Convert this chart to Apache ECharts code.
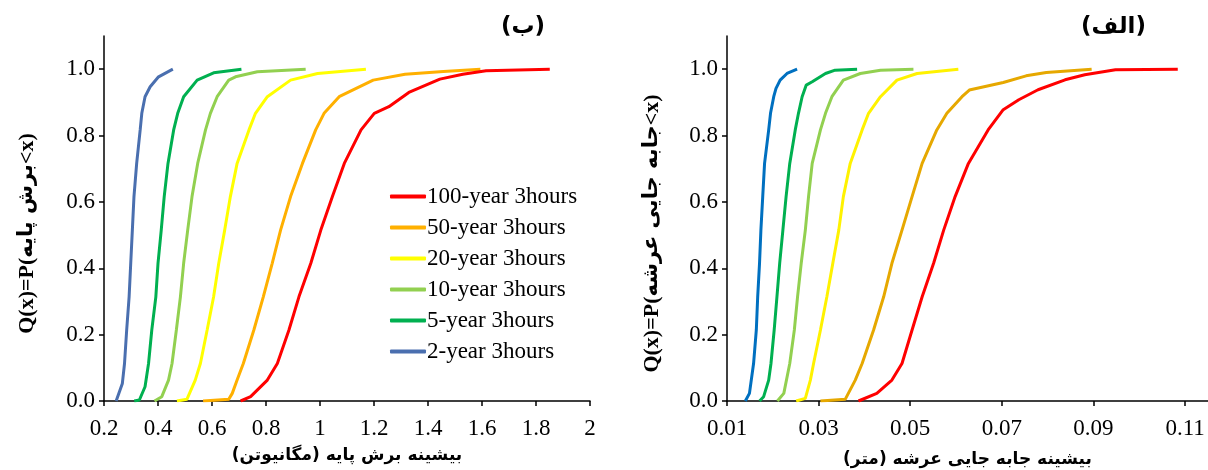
<!DOCTYPE html>
<html>
<head>
<meta charset="utf-8">
<script src="https://cdn.jsdelivr.net/npm/echarts@6/dist/echarts.min.js"></script>
<style>
  html, body { margin: 0; padding: 0; background: #fff; }
  #main { width: 1208px; height: 470px; }
</style>
</head>
<body>
<div id="main"></div>
<script>
// series names (legend order)
const names = ['100-year 3hours', '50-year 3hours', '20-year 3hours', '10-year 3hours', '5-year 3hours', '2-year 3hours'];

// left panel (ب): max base shear (MN) vs cumulative probability
const baseShear100 = [[0.706,0],[0.743,0.013],[0.805,0.063],[0.842,0.113],[0.885,0.214],[0.922,0.314],[0.966,0.415],[1.003,0.515],[1.046,0.616],[1.090,0.716],[1.152,0.817],[1.201,0.867],[1.255,0.887],[1.329,0.93],[1.444,0.97],[1.529,0.985],[1.615,0.995],[1.851,1.0]];
const baseShear50 = [[0.567,0],[0.662,0.005],[0.675,0.023],[0.693,0.063],[0.716,0.113],[0.755,0.214],[0.790,0.314],[0.823,0.415],[0.854,0.515],[0.891,0.616],[0.935,0.716],[0.984,0.817],[1.015,0.867],[1.071,0.917],[1.197,0.967],[1.315,0.985],[1.457,0.993],[1.594,1.0]];
const baseShear20 = [[0.470,0],[0.507,0.005],[0.538,0.063],[0.557,0.113],[0.582,0.214],[0.606,0.314],[0.625,0.415],[0.647,0.515],[0.668,0.616],[0.693,0.716],[0.737,0.817],[0.761,0.867],[0.805,0.917],[0.891,0.967],[0.991,0.987],[1.170,1.0]];
const baseShear10 = [[0.387,0],[0.414,0.013],[0.439,0.063],[0.452,0.113],[0.468,0.214],[0.483,0.314],[0.495,0.415],[0.510,0.515],[0.526,0.616],[0.547,0.716],[0.576,0.817],[0.594,0.867],[0.619,0.917],[0.662,0.967],[0.687,0.977],[0.768,0.992],[0.947,1.0]];
const baseShear5 = [[0.312,0],[0.331,0.003],[0.352,0.043],[0.365,0.113],[0.377,0.214],[0.392,0.314],[0.400,0.415],[0.412,0.515],[0.423,0.616],[0.437,0.716],[0.458,0.817],[0.473,0.867],[0.495,0.917],[0.545,0.967],[0.606,0.989],[0.709,1.0]];
const baseShear2 = [[0.245,0],[0.268,0.053],[0.276,0.113],[0.284,0.214],[0.293,0.314],[0.299,0.415],[0.305,0.515],[0.311,0.616],[0.321,0.716],[0.334,0.817],[0.340,0.867],[0.352,0.917],[0.371,0.947],[0.402,0.977],[0.455,1.0]];

// right panel (الف): max deck displacement (m) vs cumulative probability
const deck100 = [[0.0387,0],[0.0427,0.023],[0.0460,0.063],[0.0482,0.113],[0.0504,0.214],[0.0526,0.314],[0.0551,0.415],[0.0573,0.515],[0.0598,0.616],[0.0627,0.716],[0.0670,0.817],[0.0703,0.878],[0.0737,0.908],[0.0779,0.938],[0.0838,0.968],[0.0881,0.983],[0.0948,0.998],[0.1084,1.0]];
const deck50 = [[0.0304,0],[0.0358,0.005],[0.0380,0.063],[0.0395,0.113],[0.0420,0.214],[0.0442,0.314],[0.0460,0.415],[0.0482,0.515],[0.0504,0.616],[0.0526,0.716],[0.0558,0.817],[0.0580,0.867],[0.0613,0.917],[0.0629,0.937],[0.0703,0.96],[0.0753,0.98],[0.0797,0.99],[0.0896,1.0]];
const deck20 = [[0.0251,0],[0.0271,0.008],[0.0282,0.063],[0.0289,0.113],[0.0304,0.214],[0.0318,0.314],[0.0331,0.415],[0.0344,0.515],[0.0354,0.616],[0.0369,0.716],[0.0395,0.817],[0.0409,0.867],[0.0435,0.917],[0.0471,0.967],[0.0515,0.987],[0.0605,1.0]];
const deck10 = [[0.0210,0],[0.0224,0.023],[0.0237,0.113],[0.0247,0.214],[0.0254,0.314],[0.0262,0.415],[0.0271,0.515],[0.0278,0.616],[0.0286,0.716],[0.0304,0.817],[0.0315,0.867],[0.0329,0.917],[0.0354,0.967],[0.0391,0.987],[0.0435,0.997],[0.0507,1.0]];
const deck5 = [[0.0171,0],[0.0180,0.013],[0.0191,0.063],[0.0196,0.113],[0.0203,0.214],[0.0209,0.314],[0.0215,0.415],[0.0222,0.515],[0.0229,0.616],[0.0237,0.716],[0.0249,0.817],[0.0256,0.867],[0.0264,0.917],[0.0273,0.952],[0.0286,0.962],[0.0315,0.987],[0.0336,0.997],[0.0384,1.0]];
const deck2 = [[0.0140,0],[0.0149,0.023],[0.0158,0.113],[0.0164,0.214],[0.0167,0.314],[0.0171,0.415],[0.0174,0.515],[0.0178,0.616],[0.0182,0.716],[0.0191,0.817],[0.0195,0.867],[0.0202,0.917],[0.0207,0.942],[0.0216,0.967],[0.0231,0.987],[0.0253,1.0]];

const leftData = [baseShear100, baseShear50, baseShear20, baseShear10, baseShear5, baseShear2];
const rightData = [deck100, deck50, deck20, deck10, deck5, deck2];
const leftColors = ['#FF0000', '#FFB000', '#FFFF00', '#92D050', '#00B050', '#4A6FAF'];
const rightColors = ['#FF0000', '#E6A800', '#FFF200', '#92D050', '#00B050', '#0070C0'];

const serif = '"Times New Roman", "Liberation Serif", serif';
const arabicFont = '"DejaVu Sans", "Noto Sans", sans-serif';

// rich styles for the mixed latin / persian y axis titles
const yNameRich = {
    a: { fontFamily: serif, fontWeight: 'bold', fontSize: 22, color: '#000' },
    b: { fontFamily: arabicFont, fontWeight: 'bold', fontSize: 21, color: '#000' }
};

function valueAxis(grid, min, max, interval, name, nameGap, isY) {
    let axis = {
        type: 'value',
        gridIndex: grid,
        min: min,
        max: max,
        interval: interval,
        splitLine: { show: false },
        axisLine: { show: true, lineStyle: { color: '#000', width: 1.5 } },
        axisTick: { show: true, length: 5, lineStyle: { color: '#000', width: 1.5 } },
        axisLabel: { color: '#000', fontFamily: serif, fontSize: 23, showMaxLabel: false, margin: 16 },
        name: name,
        nameLocation: 'middle',
        nameGap: nameGap,
        nameTextStyle: { color: '#000', fontFamily: arabicFont, fontWeight: 'bold', fontSize: 17 }
    };
    if (isY) {
        axis.axisLabel.formatter = function (v) { return v.toFixed(1); };
        axis.axisLabel.margin = 9;
        axis.nameTextStyle.rich = yNameRich;
        // push the rotated title a little downward like the original
        axis.nameTextStyle.padding = [0, 30, 0, 0];
    }
    return axis;
}

let series = [];
for (let i = 0; i < names.length; i++) {
    series.push({
        name: names[i], type: 'line', xAxisIndex: 0, yAxisIndex: 0,
        data: leftData[i], showSymbol: false, symbol: 'none',
        lineStyle: { width: 3, color: leftColors[i] }, itemStyle: { color: leftColors[i] },
        z: 10 - i
    });
}
for (let i = 0; i < names.length; i++) {
    series.push({
        name: names[i] + ' ', type: 'line', xAxisIndex: 1, yAxisIndex: 1,
        data: rightData[i], showSymbol: false, symbol: 'none',
        lineStyle: { width: 3, color: rightColors[i] }, itemStyle: { color: rightColors[i] },
        z: 10 - i
    });
}

let leftX = valueAxis(0, 0.2, 2, 0.2, 'بیشینه برش پایه (مگانیوتن)', 46, false);
leftX.axisLabel.showMaxLabel = true;

const chart = echarts.init(document.getElementById('main'));
chart.setOption({
    animation: false,
    backgroundColor: '#fff',
    title: [
        { text: '(ب)', left: 496, top: 11, textStyle: { fontFamily: arabicFont, fontWeight: 'bold', fontSize: 23, color: '#000' } },
        { text: '(الف)', left: 1076, top: 11, textStyle: { fontFamily: arabicFont, fontWeight: 'bold', fontSize: 23, color: '#000' } }
    ],
    grid: [
        { left: 104, top: 36, width: 486, height: 365, outerBoundsMode: 'none', containLabel: false },
        { left: 727, top: 36, width: 481, height: 365, outerBoundsMode: 'none', containLabel: false }
    ],
    xAxis: [
        leftX,
        valueAxis(1, 0.01, 0.115, 0.02, 'بیشینه جابه جایی عرشه (متر)', 50, false)
    ],
    yAxis: [
        valueAxis(0, 0, 1.1, 0.2, '{a|Q(x)=P(}{b|برش پایه}{a|<x)}', 66, true),
        valueAxis(1, 0, 1.1, 0.2, '{a|Q(x)=P(}{b|جابه جایی عرشه}{a|<x)}', 64, true)
    ],
    legend: {
        data: names,
        orient: 'vertical',
        left: 385,
        top: 180,
        icon: 'roundRect',
        itemWidth: 36,
        itemHeight: 4,
        itemGap: 8,
        textStyle: { fontFamily: serif, fontSize: 23, color: '#000', lineHeight: 23, padding: [0, 0, 0, -4] },
        selectedMode: false
    },
    series: series
});
</script>
</body>
</html>
